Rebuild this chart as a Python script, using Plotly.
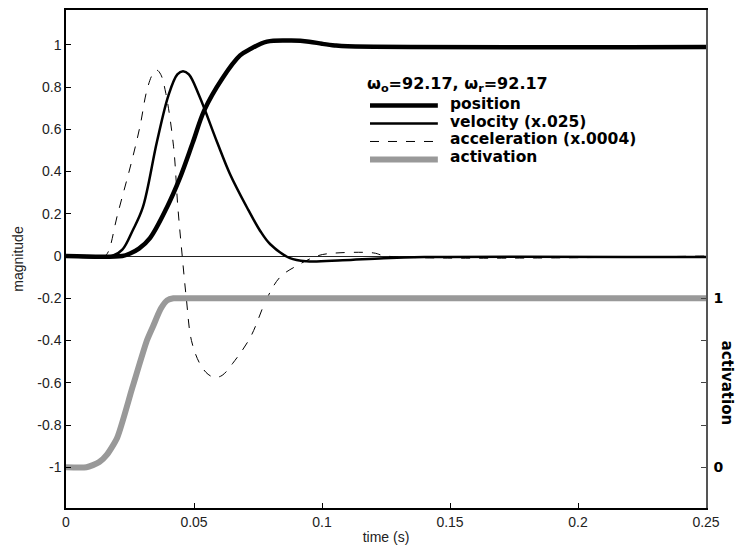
import plotly.graph_objects as go

# time (s) and magnitude
pos_t = [0, 0.022, 0.025, 0.0285, 0.0328, 0.0394, 0.0445, 0.0496, 0.054, 0.061, 0.068,
         0.072, 0.0785, 0.088, 0.095, 0.1, 0.105, 0.11, 0.25]
pos_y = [0, 0, 0.012, 0.035, 0.085, 0.23, 0.37, 0.54, 0.69, 0.84, 0.95,
         0.98, 1.015, 1.02, 1.015, 1.005, 0.997, 0.993, 0.99]

vel_t = [0, 0.018, 0.022, 0.026, 0.030, 0.0355, 0.040, 0.0435, 0.0457, 0.048, 0.052,
         0.059, 0.064, 0.0707, 0.0758, 0.0797, 0.0875, 0.094, 0.108, 0.124, 0.14, 0.25]
vel_y = [0, 0, 0.03, 0.12, 0.23, 0.54, 0.76, 0.86, 0.875, 0.86, 0.76,
         0.54, 0.39, 0.23, 0.12, 0.057, -0.01, -0.025, -0.02, -0.01, -0.005, -0.005]

acc_t = [0, 0.015, 0.0165, 0.020, 0.0257, 0.029, 0.0315, 0.0338, 0.0355, 0.037, 0.039,
         0.042, 0.0437, 0.0454, 0.047, 0.049, 0.0523, 0.0555, 0.0582, 0.061, 0.065,
         0.072, 0.0785, 0.0836, 0.090, 0.098, 0.103, 0.12, 0.125, 0.25]
acc_y = [0, 0, 0.02, 0.19, 0.45, 0.62, 0.78, 0.86, 0.88, 0.86, 0.77,
         0.52, 0.23, 0, -0.2, -0.4, -0.51, -0.56, -0.575, -0.565, -0.51,
         -0.385, -0.2, -0.1, -0.047, 0, 0.012, 0.015, 0, 0]

# activation in its own units (right axis)
act_t = [0, 0.008, 0.0105, 0.013, 0.016, 0.020, 0.026, 0.0316, 0.0341, 0.037, 0.0395,
         0.042, 0.046, 0.06, 0.1, 0.25]
act_y = [0, 0, 0.0125, 0.031, 0.075, 0.175, 0.475, 0.75, 0.8375, 0.9375, 0.9875,
         1, 1, 1, 1, 1]

x_ticks = [0, 0.05, 0.1, 0.15, 0.2, 0.25]
x_labels = ["0", "0.05", "0.1", "0.15", "0.2", "0.25"]
y_ticks = [-1, -0.8, -0.6, -0.4, -0.2, 0, 0.2, 0.4, 0.6, 0.8, 1]
y_labels = ["-1", "-0.8", "-0.6", "-0.4", "-0.2", "0", "0.2", "0.4", "0.6", "0.8", "1"]
act_ticks = [0, 0.25, 0.5, 0.75, 1]
act_labels = ["0", "", "", "", "1"]

legend_title = "ω<sub>o</sub>=92.17, ω<sub>r</sub>=92.17"
series_names = ["position", "velocity (x.025)", "acceleration (x.0004)", "activation"]

y_range = [-1.193, 1.165]
# right axis: magnitude -1 -> activation 0, magnitude -0.2 -> activation 1
act_range = [(y_range[0] + 1) / 0.8, (y_range[1] + 1) / 0.8]

styles = [
    dict(color="black", width=4.5),
    dict(color="black", width=2.5),
    dict(color="black", width=1, dash="dash"),
    dict(color="#999999", width=6),
]

fig = go.Figure()

fig.add_trace(go.Scatter(x=act_t, y=act_y, yaxis="y2", mode="lines", name=series_names[3],
                         line=dict(styles[3], shape="spline", smoothing=0.6)))
fig.add_trace(go.Scatter(x=acc_t, y=acc_y, mode="lines", name=series_names[2],
                         line=dict(styles[2], shape="spline")))
fig.add_trace(go.Scatter(x=vel_t, y=vel_y, mode="lines", name=series_names[1],
                         line=dict(styles[1], shape="spline")))
fig.add_trace(go.Scatter(x=pos_t, y=pos_y, mode="lines", name=series_names[0],
                         line=dict(styles[0], shape="spline")))

tick_font = dict(family="Liberation Sans", size=14, color="#222")
title_font = dict(family="Liberation Sans Narrow, Liberation Sans", size=14, color="#222")
bold_font = dict(family="DejaVu Sans", size=15.5, color="black", weight="bold")

# the page adds an 8px body margin, so the figure is a little smaller than the window
fig.update_layout(
    width=735, height=549,
    margin=dict(l=58, r=37, t=0, b=49),
    plot_bgcolor="white", paper_bgcolor="white",
    showlegend=False,
    xaxis=dict(
        range=[0, 0.25], tickvals=x_ticks, ticktext=x_labels,
        ticks="inside", ticklen=5, tickcolor="black",
        showline=True, linecolor="black", linewidth=1.5, mirror=True,
        showgrid=False, zeroline=False, tickfont=tick_font,
        title=dict(text="time (s)", standoff=4, font=title_font),
    ),
    yaxis=dict(
        range=y_range, tickvals=y_ticks, ticktext=y_labels,
        ticks="inside", ticklen=5, tickcolor="black",
        showline=True, linecolor="black", linewidth=1.5,
        showgrid=False, zeroline=True, zerolinecolor="#222", zerolinewidth=1,
        tickfont=tick_font,
        title=dict(text="magnitude", standoff=10, font=title_font),
    ),
    yaxis2=dict(
        overlaying="y", side="right", range=act_range,
        tickvals=act_ticks, ticktext=act_labels,
        ticks="inside", ticklen=5, tickcolor="#444", ticklabelstandoff=3,
        showline=True, linecolor="#555", linewidth=1.5,
        showgrid=False, zeroline=False,
        tickfont=dict(family="DejaVu Sans", size=14, color="black", weight="bold"),
    ),
)

# hand-made legend block (tighter rows than plotly's own legend allows)
fig.add_annotation(text=legend_title, showarrow=False, xref="paper", yref="paper",
                   x=0.467, y=0.851, xanchor="left", yanchor="middle",
                   font=dict(bold_font, size=16))
row_y = [0.808, 0.772, 0.736, 0.700]
for name, style, ry in zip(series_names, styles, row_y):
    fig.add_shape(type="line", xref="paper", yref="paper",
                  x0=0.475, x1=0.581, y0=ry, y1=ry, line=style)
    fig.add_annotation(text=name, showarrow=False, xref="paper", yref="paper",
                       x=0.597, y=ry + 0.004, xanchor="left", yanchor="middle", font=bold_font)

fig.add_annotation(
    text="activation", textangle=90, showarrow=False,
    xref="paper", yref="paper", x=1.017, y=0.25, xanchor="left", yanchor="middle",
    font=dict(bold_font, size=15),
)

fig.write_html("out.html")
